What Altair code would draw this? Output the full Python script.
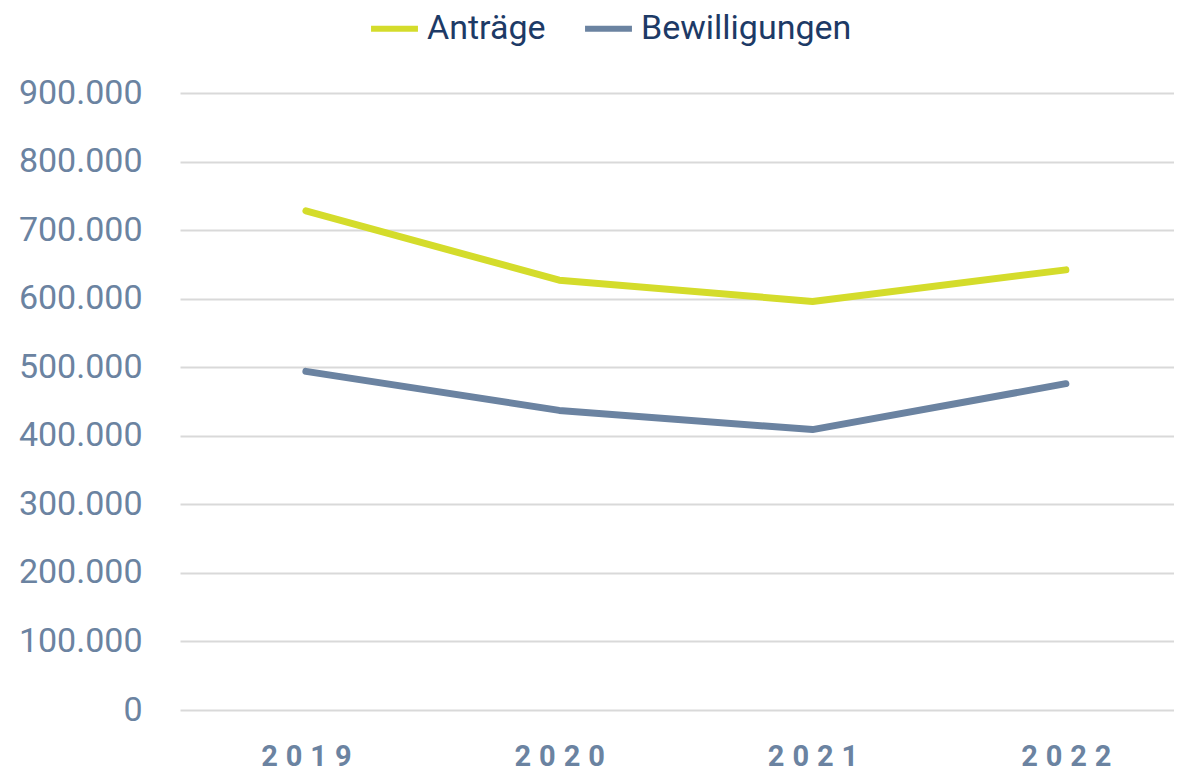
import altair as alt
import pandas as pd

years = [2019, 2020, 2021, 2022]
antraege = [728000, 627000, 596000, 642000]
bewilligungen = [494000, 437000, 409000, 476000]
series_names = ["Anträge", "Bewilligungen"]
colors = ["#d4dc2b", "#6b83a1"]
y_ticks = [0, 100000, 200000, 300000, 400000, 500000, 600000, 700000, 800000, 900000]

rows = []
for y, v in zip(years, antraege):
    rows.append({"Jahr": y, "Wert": v, "Serie": series_names[0]})
for y, v in zip(years, bewilligungen):
    rows.append({"Jahr": y, "Wert": v, "Serie": series_names[1]})
df = pd.DataFrame(rows)

FONT = "Roboto"
LABEL = "#6b83a1"

chart = alt.Chart(df).mark_line(strokeWidth=7, strokeCap="round", strokeJoin="round").encode(
    x=alt.X("Jahr:Q",
            scale=alt.Scale(domain=[2018.503, 2022.427], nice=False, zero=False),
            axis=alt.Axis(title=None, domain=False, ticks=False, grid=False, values=years,
                          labelFont=FONT, labelFontSize=29, labelFontWeight="bold",
                          labelColor=LABEL, labelPadding=32,
                          labelFlush=False, labelOverlap=False,
                          labelExpr="join(split(format(datum.value, 'd'), ''), '\u2008')")),
    y=alt.Y("Wert:Q",
            scale=alt.Scale(domain=[0, 900000], nice=False),
            axis=alt.Axis(title=None, domain=False, ticks=False, values=y_ticks,
                          labelFont=FONT, labelFontSize=34, labelColor=LABEL, labelPadding=38,
                          labelExpr="replace(format(datum.value, ',d'), /,/g, '.')",
                          gridColor="#d9d9d9", gridWidth=2)),
    color=alt.Color("Serie:N", sort=series_names,
                    scale=alt.Scale(domain=series_names, range=colors),
                    legend=alt.Legend(title=None, orient="none", direction="horizontal",
                                      legendX=188, legendY=-91,
                                      symbolType="stroke", symbolStrokeWidth=6,
                                      symbolSize=2200, labelFont=FONT, labelFontSize=34,
                                      labelColor="#1d3a66", columnPadding=27,
                                      labelOffset=6, labelLimit=400)),
).properties(
    width=994, height=617,
    autosize=alt.AutoSizeParams(type="none"),
    padding={"left": 172, "top": 85, "right": 0, "bottom": 66},
).configure_view(stroke=None)

chart.save("out.html", embed_options={"renderer": "svg", "actions": False})
